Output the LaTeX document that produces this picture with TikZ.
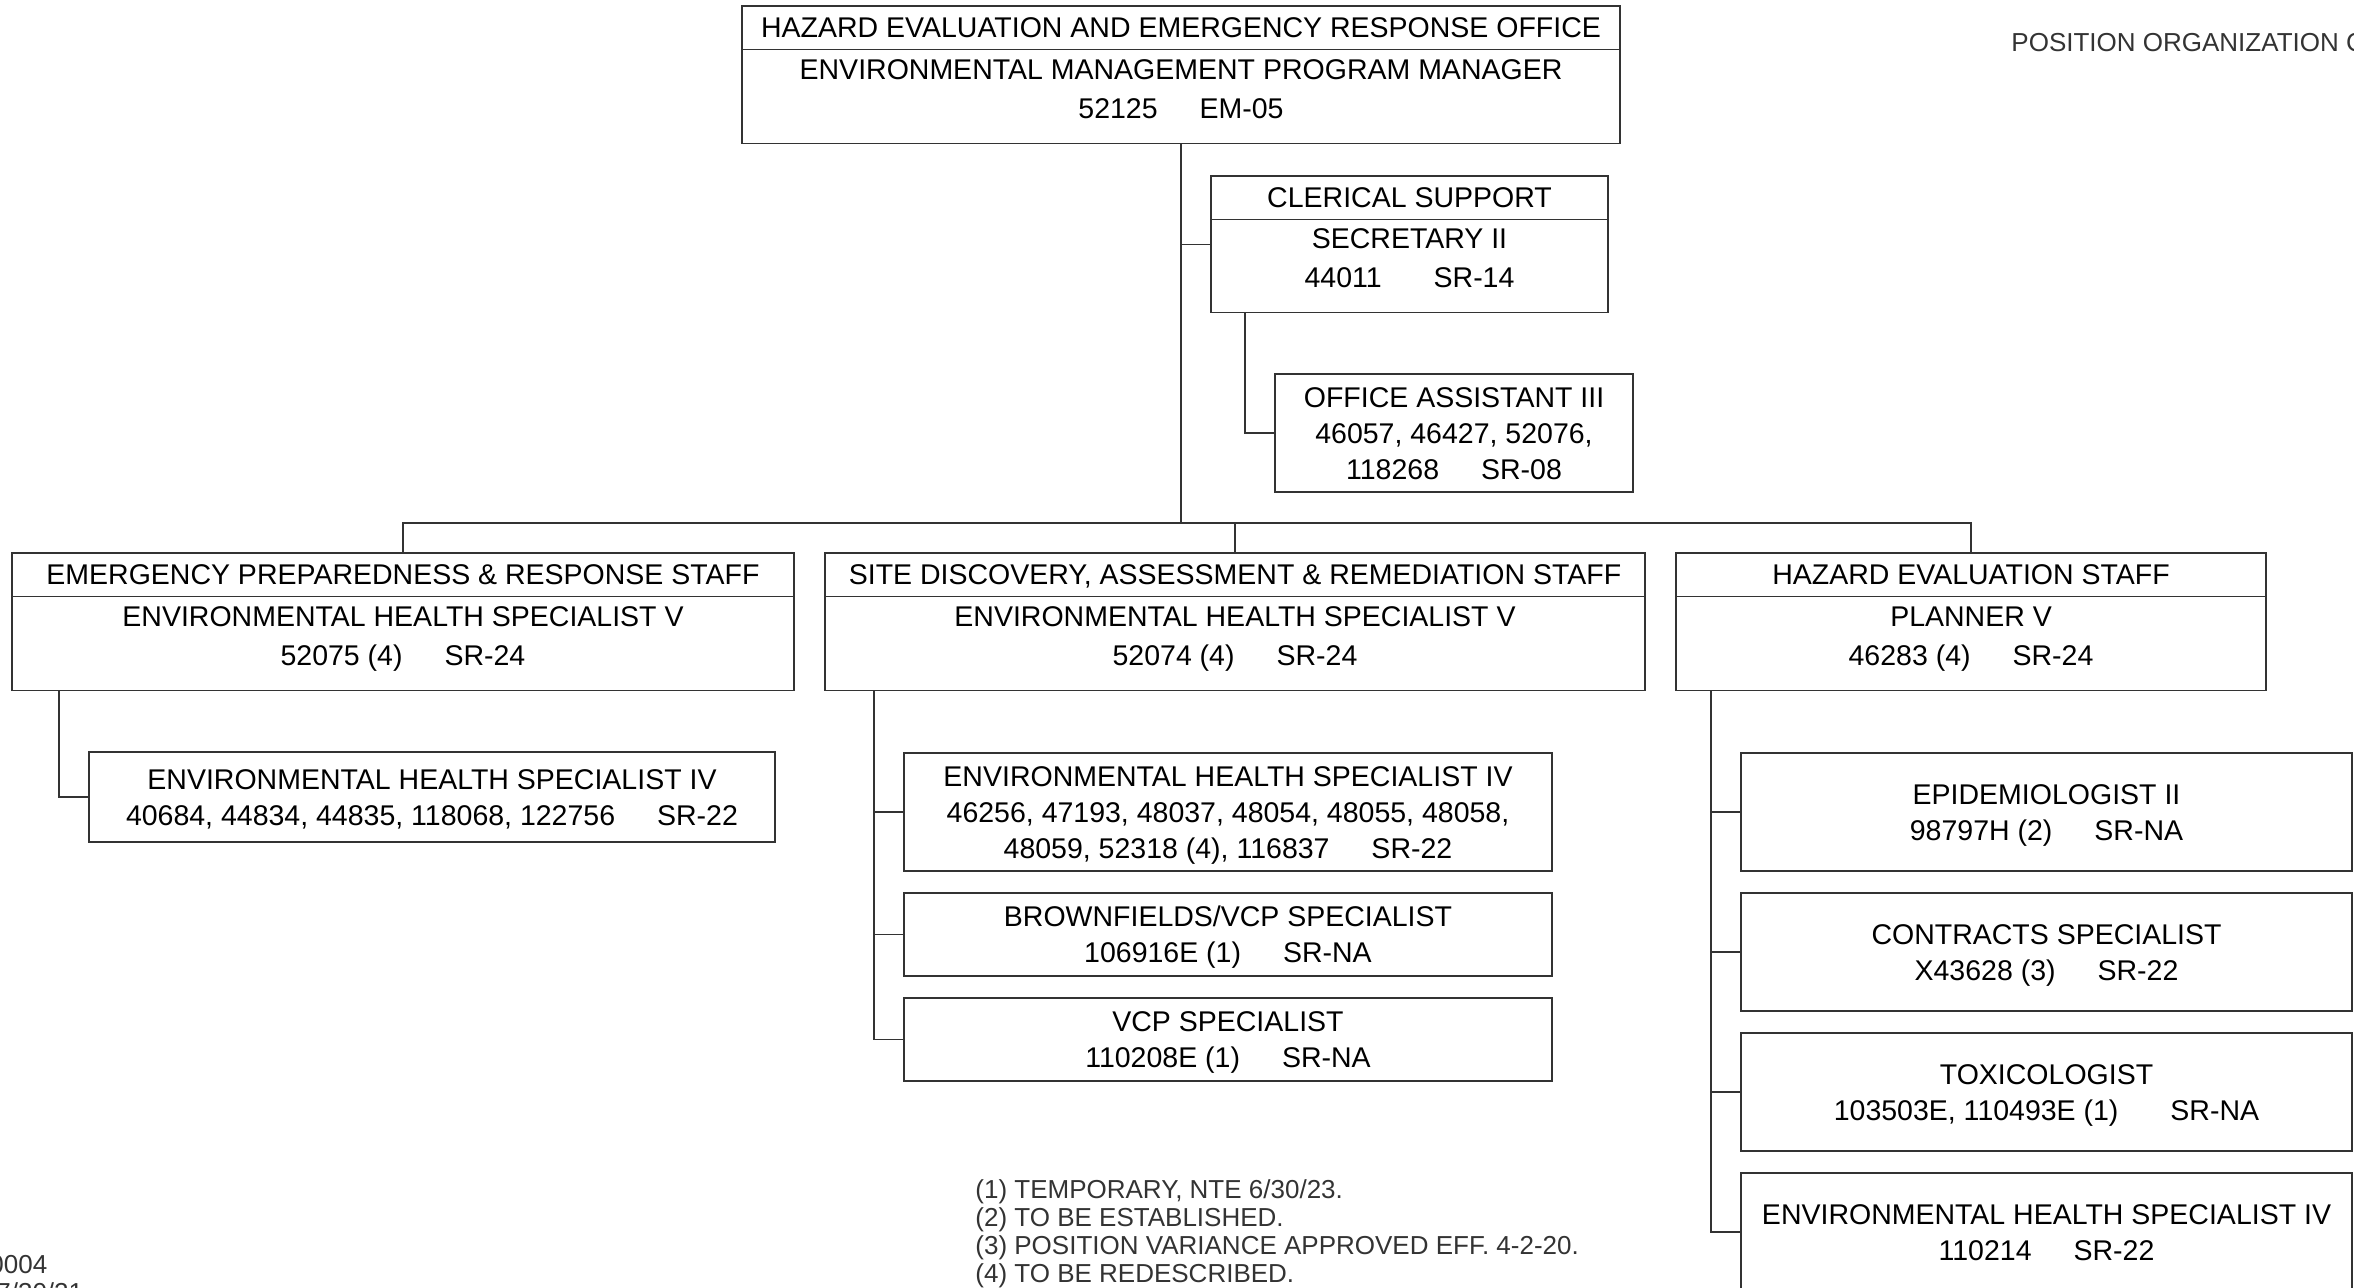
\documentclass[tikz,border=0pt]{standalone}
\usepackage{fontspec}
\setmainfont{Liberation Sans}
\usetikzlibrary{positioning,calc}
\newcommand{\pgap}{\hspace{21pt}}
\newcommand{\wgap}{\hspace{26pt}}
\tikzset{
  box/.style={draw=black!80, line width=0.75pt, inner sep=0pt, outer sep=0pt, align=center},
  titlebox/.style={box, minimum height=21.75pt, text height=10.2pt, text depth=0pt, font=\fontsize{14.25}{17}\selectfont},
  bodybox/.style={box, minimum height=47pt, text height=29.7pt, text depth=8pt, font=\fontsize{14.25}{19.5}\selectfont},
  unitbox/.style={box, minimum height=59pt, text height=28.2pt, text depth=0pt, font=\fontsize{14.25}{18}\selectfont},
  threeline/.style={text height=46.2pt},
  link/.style={draw=black!80, line width=0.75pt},
  note/.style={anchor=base west, inner sep=0pt, text=black!80, font=\fontsize{13}{14}\selectfont},
}
\begin{document}
\begin{tikzpicture}[x=0.5pt,y=-0.5pt]
  \useasboundingbox (0,0) rectangle (2354,1287);
  % office head
  \node[titlebox, minimum width=439pt, anchor=north west] (heoT) at (742,6) {HAZARD EVALUATION AND EMERGENCY RESPONSE OFFICE};
  \node[bodybox, minimum width=439pt, below=0pt of heoT] (heoB) {ENVIRONMENTAL MANAGEMENT PROGRAM MANAGER\\52125\pgap EM-05};
  % clerical support
  \node[titlebox, minimum width=198.5pt, anchor=north west] (csT) at (1211,176) {CLERICAL SUPPORT};
  \node[bodybox, minimum width=198.5pt, minimum height=46.5pt, below=0pt of csT] (csB) {SECRETARY II\\44011\wgap SR-14};
  \node[unitbox, threeline, minimum width=179pt, anchor=north west] (oa) at (1275,374) {OFFICE ASSISTANT III\\46057, 46427, 52076,\\118268\pgap SR-08};
  % staffs
  \node[titlebox, minimum width=391pt, anchor=north west] (epT) at (12,553) {EMERGENCY PREPAREDNESS \& RESPONSE STAFF};
  \node[bodybox, minimum width=391pt, below=0pt of epT] (epB) {ENVIRONMENTAL HEALTH SPECIALIST V\\52075 (4)\pgap SR-24};
  \node[titlebox, minimum width=410pt, anchor=north west] (sdT) at (825,553) {SITE DISCOVERY, ASSESSMENT \& REMEDIATION STAFF};
  \node[bodybox, minimum width=410pt, below=0pt of sdT] (sdB) {ENVIRONMENTAL HEALTH SPECIALIST V\\52074 (4)\pgap SR-24};
  \node[titlebox, minimum width=295pt, anchor=north west] (hzT) at (1676,553) {HAZARD EVALUATION STAFF};
  \node[bodybox, minimum width=295pt, below=0pt of hzT] (hzB) {PLANNER V\\46283 (4)\pgap SR-24};
  % emergency preparedness units
  \node[unitbox, minimum width=343pt, minimum height=45pt, anchor=north west] (ep1) at (89,752) {ENVIRONMENTAL HEALTH SPECIALIST IV\\40684, 44834, 44835, 118068, 122756\pgap SR-22};
  % site discovery units
  \node[unitbox, threeline, minimum width=324pt, anchor=north west] (sd1) at (904,753) {ENVIRONMENTAL HEALTH SPECIALIST IV\\46256, 47193, 48037, 48054, 48055, 48058,\\48059, 52318 (4), 116837\pgap SR-22};
  \node[unitbox, minimum width=324pt, minimum height=41.5pt, below=11pt of sd1] (sd2) {BROWNFIELDS/VCP SPECIALIST\\106916E (1)\pgap SR-NA};
  \node[unitbox, minimum width=324pt, minimum height=41.5pt, below=11pt of sd2] (sd3) {VCP SPECIALIST\\110208E (1)\pgap SR-NA};
  % hazard evaluation units
  \node[unitbox, minimum width=305.5pt, anchor=north west] (hz1) at (1741,753) {EPIDEMIOLOGIST II\\98797H (2)\pgap SR-NA};
  \node[unitbox, minimum width=305.5pt, below=11pt of hz1] (hz2) {CONTRACTS SPECIALIST\\X43628 (3)\pgap SR-22};
  \node[unitbox, minimum width=305.5pt, below=11pt of hz2] (hz3) {TOXICOLOGIST\\103503E, 110493E (1)\wgap SR-NA};
  \node[unitbox, minimum width=305.5pt, below=11pt of hz3] (hz4) {ENVIRONMENTAL HEALTH SPECIALIST IV\\110214\pgap SR-22};
  % connectors
  \coordinate (busy) at (0,523);
  \draw[link] (heoB.south) -- (heoB.south |- busy);
  \draw[link] (epT.north) |- (hzT.north |- busy) -- (hzT.north);
  \draw[link] (sdT.north) -- (sdT.north |- busy);
  \coordinate (csW) at ($(csT.north west)!0.5!(csB.south west)$);
  \draw[link] (csW) -- (csW -| heoB.south);
  \draw[link] ([xshift=17pt]csB.south west) |- (oa.west);
  \draw[link] ([xshift=23.5pt]epB.south west) |- (ep1.west);
  \coordinate (sdtrunk) at ([xshift=24.5pt]sdB.south west);
  \draw[link] (sdtrunk) |- (sd3.west);
  \foreach \n in {1,2}
    \draw[link] (sd\n.west) -- (sd\n.west -| sdtrunk);
  \coordinate (hztrunk) at ([xshift=17.5pt]hzB.south west);
  \draw[link] (hztrunk) |- (hz4.west);
  \foreach \n in {1,2,3}
    \draw[link] (hz\n.west) -- (hz\n.west -| hztrunk);
  % notes
  \node[note] (poc) at (2011,51) {POSITION ORGANIZATION C};
  \node[note] (docno) at (-11,1273) {0004};
  \node[note] (docdate) at (-4,1301) {7/30/21};
  \foreach \txt [count=\i] in {{(1) TEMPORARY, NTE 6/30/23.},{(2) TO BE ESTABLISHED.},{(3) POSITION VARIANCE APPROVED EFF. 4-2-20.},{(4) TO BE REDESCRIBED.}}
    \node[note] (fn\i) at (975,1170+28*\i) {\txt};
\end{tikzpicture}
\end{document}
